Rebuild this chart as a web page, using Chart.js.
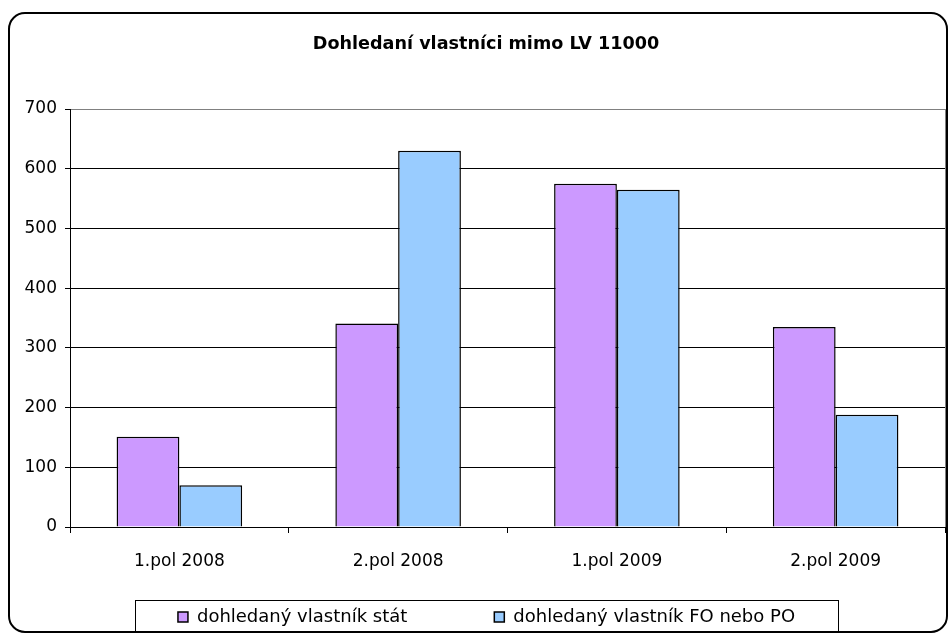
<!DOCTYPE html>
<html>
<head>
<meta charset="utf-8">
<script src="https://cdn.jsdelivr.net/npm/chart.js@4"></script>
<style>
  html, body { margin: 0; padding: 0; background: #ffffff; }
  canvas { display: block; }
</style>
</head>
<body>
<canvas id="c" width="950" height="635"></canvas>
<script>
// ---- data ----
const chartTitle = 'Dohledaní vlastníci mimo LV 11000';
const categories = ['1.pol 2008', '2.pol 2008', '1.pol 2009', '2.pol 2009'];
const seriesNames = ['dohledaný vlastník stát', 'dohledaný vlastník FO nebo PO'];
const statValues = [151, 341, 575, 335];
const foPoValues = [70, 630, 565, 188];
const yMin = 0;
const yMax = 700;
const yStep = 100;

// ---- styles ----
const FONT = "'DejaVu Sans', 'Verdana', sans-serif";
const PURPLE = '#CC99FF';
const BLUE = '#99CCFF';

Chart.defaults.font.family = FONT;
Chart.defaults.color = '#000000';

const framePlugin = {
  id: 'frame',
  beforeDraw(chart) {
    const ctx = chart.ctx;
    ctx.save();
    ctx.fillStyle = '#ffffff';
    ctx.fillRect(0, 0, chart.width, chart.height);
    ctx.beginPath();
    ctx.lineWidth = 2;
    ctx.strokeStyle = '#000000';
    ctx.roundRect(9, 13, 938, 619, 16);
    ctx.stroke();
    ctx.restore();
  }
};

const layoutTweaks = {
  id: 'layoutTweaks',
  afterLayout(chart) {
    const lg = chart.legend;
    if (lg) {
      const P = lg.options.labels.padding;
      const itemTop = chart.height - 27;
      lg.top = itemTop - P;
      const shift = 486.5 - (lg.left + lg.right) / 2;
      lg.left += shift;
      lg.right += shift;
    }
    const tb = chart.titleBlock;
    if (tb) {
      const s = 486 - (tb.left + tb.right) / 2;
      tb.left += s;
      tb.right += s;
    }
  }
};

const legendFrame = {
  id: 'legendFrame',
  afterDraw(chart) {
    const lg = chart.legend;
    const hb = lg && lg.legendHitBoxes;
    if (!hb || !hb.length) return;
    const first = hb[0], last = hb[hb.length - 1];
    const x0 = Math.round(first.left - 43) + 0.5;
    const x1 = Math.round(last.left + last.width + 43) + 0.5;
    const y0 = Math.round(first.top - 8) + 0.5;
    const y1 = Math.round(first.top + first.height + 6) + 0.5;
    const ctx = chart.ctx;
    ctx.save();
    ctx.strokeStyle = '#000000';
    ctx.lineWidth = 1;
    ctx.strokeRect(x0, y0, x1 - x0, y1 - y0);
    ctx.restore();
  }
};

new Chart(document.getElementById('c'), {
  type: 'bar',
  data: {
    labels: categories,
    datasets: [
      {
        label: seriesNames[0],
        data: statValues,
        backgroundColor: PURPLE,
        borderColor: '#000000',
        borderWidth: 1.5
      },
      {
        label: seriesNames[1],
        data: foPoValues,
        backgroundColor: BLUE,
        borderColor: '#000000',
        borderWidth: 1.5
      }
    ]
  },
  options: {
    responsive: false,
    animation: false,
    devicePixelRatio: 1,
    layout: { padding: { left: 0, right: 5, top: 0, bottom: 0 } },
    datasets: {
      bar: { categoryPercentage: 0.574, barPercentage: 1.0 }
    },
    plugins: {
      title: {
        display: true,
        text: chartTitle,
        color: '#000000',
        font: { family: FONT, size: 17.6, weight: 'bold' },
        padding: { top: 33.5, bottom: 54.4 }
      },
      legend: {
        display: true,
        position: 'bottom',
        maxHeight: 45.6,
        labels: {
          color: '#000000',
          font: { family: FONT, size: 18 },
          boxWidth: 10,
          boxHeight: 10,
          padding: 87
        }
      },
      tooltip: { enabled: false }
    },
    scales: {
      x: {
        offset: true,
        grid: {
          offset: true,
          drawOnChartArea: true,
          color: (ctx) => (ctx.type === 'tick' ? 'rgba(0,0,0,0)' : '#808080'),
          tickColor: '#000000',
          tickLength: 6,
          lineWidth: 1
        },
        border: { display: true, color: '#000000', width: 1 },
        ticks: {
          color: '#000000',
          font: { family: FONT, size: 17 },
          padding: 18,
          maxRotation: 0
        }
      },
      y: {
        min: yMin,
        max: yMax,
        afterFit(scale) { scale.width = 70; },
        grid: {
          color: (ctx) => (ctx.tick && ctx.tick.value === yMax ? '#808080' : '#000000'),
          tickColor: '#000000',
          tickLength: 5,
          lineWidth: 1
        },
        border: { display: true, color: '#000000', width: 1 },
        ticks: {
          stepSize: yStep,
          color: '#000000',
          font: { family: FONT, size: 17 },
          padding: 8
        }
      }
    }
  },
  plugins: [framePlugin, layoutTweaks, legendFrame]
});
</script>
</body>
</html>
